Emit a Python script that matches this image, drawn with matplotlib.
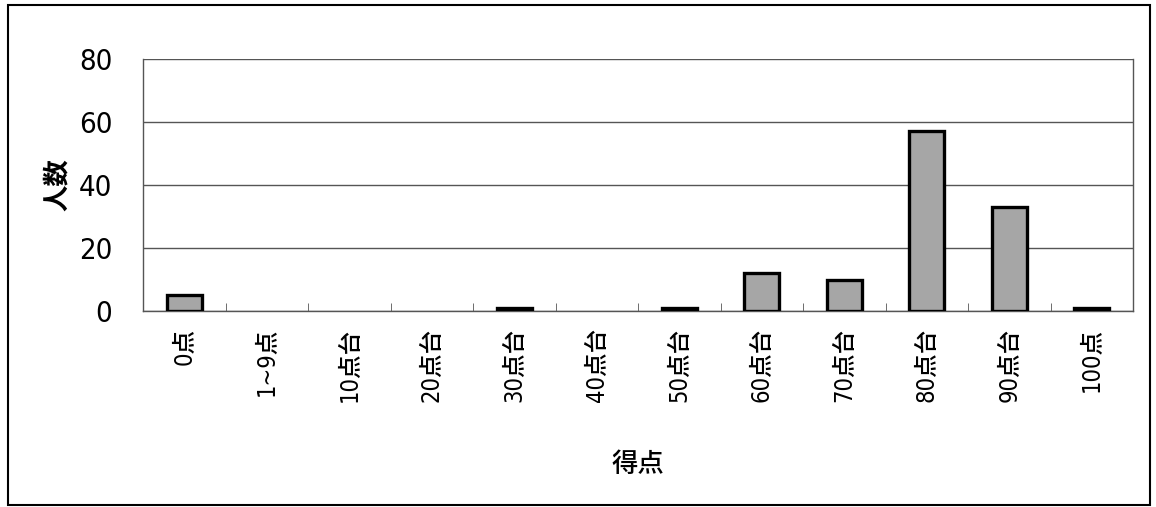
import matplotlib
matplotlib.use('Agg')
import matplotlib.pyplot as plt
import numpy as np
from matplotlib.ticker import FixedLocator

plt.rcParams['font.family'] = ['DejaVu Sans', 'Noto Sans CJK JP']
plt.rcParams['font.stretch'] = 'condensed'

# score bands and number of students in each
bands = ['0点', '1~9点', '10点台', '20点台', '30点台', '40点台',
         '50点台', '60点台', '70点台', '80点台', '90点台', '100点']
counts = [5, 0, 0, 0, 1, 0, 1, 12, 10, 57, 33, 1]
yticks = [0, 20, 40, 60, 80]

fig = plt.figure(figsize=(11.56, 5.07), dpi=100)
ax = fig.add_axes([143 / 1156, 1 - 311 / 507, 990 / 1156, 252 / 507])

x = np.arange(len(bands))
bars = ax.bar(x, counts, width=0.42, color='#a6a6a6', edgecolor='black', linewidth=2.4, zorder=3)
for b, c in zip(bars, counts):
    if c == 0:
        b.set_visible(False)

ax.set_xlim(-0.5, len(bands) - 0.5)
ax.set_ylim(0, 80)
ax.set_yticks(yticks)
ax.grid(axis='y', color='#555555', linewidth=1.0, zorder=0)

ax.set_xticks(x)
ax.set_xticklabels(bands, rotation=90, fontsize=17, fontweight='medium')
ax.tick_params(axis='x', which='major', length=0, pad=12)
ax.xaxis.set_minor_locator(FixedLocator(np.arange(0.5, len(bands) - 0.5, 1)))
ax.tick_params(axis='x', which='minor', direction='in', length=6, color='#555555')
ax.tick_params(axis='y', length=0, labelsize=21, pad=22)
for t in ax.get_yticklabels():
    t.set_fontweight('medium')

for side in ['left', 'right', 'bottom']:
    ax.spines[side].set_color('#555555')
    ax.spines[side].set_linewidth(1.0)
ax.spines['top'].set_visible(False)

ax.set_ylabel('人数', fontsize=19, fontweight='bold', labelpad=6)
ax.set_xlabel('得点', fontsize=19, fontweight='medium', labelpad=36)

# frame around the whole chart
fig.add_artist(plt.Rectangle((8 / 1156, 2 / 507), 1142 / 1156, 500 / 507,
                             transform=fig.transFigure, fill=False,
                             edgecolor='black', linewidth=1.5))

fig.savefig('out.png', dpi=100)
